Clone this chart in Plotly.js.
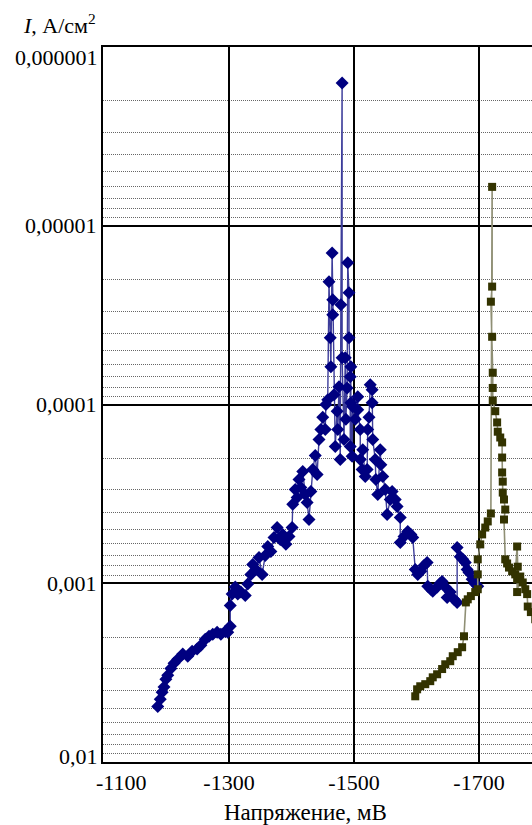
<!DOCTYPE html>
<html>
<head>
<meta charset="utf-8">
<script src="https://cdn.plot.ly/plotly-3.0.1.min.js"></script>
<style>
html, body { margin: 0; padding: 0; overflow: hidden; background: #fff; }
#chart { width: 600px; height: 825px; }
</style>
</head>
<body>
<div id="chart"></div>
<script>
// Series 1 (blue diamonds): voltage, mV
const blueV = [-1186,-1190,-1193,-1196,-1199,-1202,-1207,-1212,-1218,-1226,-1234,-1241,-1249,-1255,-1262,-1268,-1274,-1281,-1287,-1294,-1298,-1302,-1302,-1305,-1310,-1314,-1319,-1326,-1330,-1335,-1338,-1343,-1348,-1353,-1358,-1362,-1367,-1372,-1377,-1382,-1386,-1391,-1396,-1401,-1402,-1406,-1409,-1412,-1415,-1418,-1422,-1425,-1428,-1431,-1434,-1438,-1441,-1444,-1447,-1450,-1454,-1455,-1458,-1460,-1462,-1463,-1465,-1466,-1466,-1468,-1470,-1473,-1474,-1476,-1478,-1479,-1481,-1481,-1484,-1486,-1487,-1489,-1490,-1492,-1492,-1494,-1494,-1495,-1495,-1497,-1498,-1502,-1506,-1506,-1510,-1510,-1513,-1514,-1518,-1521,-1522,-1524,-1526,-1529,-1529,-1530,-1534,-1535,-1538,-1542,-1543,-1546,-1550,-1553,-1558,-1561,-1566,-1569,-1574,-1574,-1580,-1586,-1591,-1594,-1598,-1602,-1607,-1612,-1617,-1618,-1623,-1626,-1633,-1638,-1641,-1646,-1649,-1654,-1660,-1665,-1665,-1670,-1674,-1678,-1681,-1684,-1689,-1694,-1698];
// Series 1 current density, A/cm2
const blueI = [4.9e-3,4.45e-3,4.07e-3,3.81e-3,3.44e-3,3.27e-3,3.0e-3,2.8e-3,2.66e-3,2.49e-3,2.56e-3,2.40e-3,2.33e-3,2.22e-3,2.06e-3,1.98e-3,1.93e-3,1.88e-3,1.93e-3,1.86e-3,1.88e-3,1.74e-3,1.33e-3,1.15e-3,1.05e-3,1.15e-3,1.12e-3,1.17e-3,1.01e-3,8.92e-4,7.85e-4,8.37e-4,7.18e-4,8.92e-4,7.0e-4,6.23e-4,6.64e-4,5.55e-4,4.88e-4,5.69e-4,5.33e-4,6.06e-4,5.48e-4,4.88e-4,3.62e-4,2.99e-4,3.31e-4,2.63e-4,2.91e-4,2.37e-4,3.19e-4,3.53e-4,4.40e-4,3.07e-4,2.31e-4,1.93e-4,2.46e-4,1.57e-4,1.38e-4,1.18e-4,1.38e-4,1.0e-4,9.4e-5,2.06e-5,4.23e-5,6.15e-5,1.42e-5,2.59e-5,3.15e-5,8.82e-5,1.72e-4,1.09e-4,1.38e-4,7.96e-5,2.03e-4,2.77e-5,1.59e-6,5.48e-5,1.57e-4,5.48e-5,1.21e-4,8.08e-5,1.61e-5,2.37e-5,4.23e-5,7.0e-5,1.72e-4,6.15e-5,9.78e-5,1.95e-4,1.03e-4,1.21e-4,9.04e-5,1.07e-4,1.38e-4,2.03e-4,2.31e-4,1.79e-4,2.53e-4,2.31e-4,1.38e-4,1.18e-4,7.75e-5,8.28e-5,9.78e-5,1.57e-4,2.03e-4,2.63e-4,3.19e-4,1.79e-4,2.17e-4,2.53e-4,2.99e-4,4.12e-4,3.40e-4,3.07e-4,3.40e-4,3.72e-4,4.29e-4,5.92e-4,5.48e-4,5.13e-4,5.33e-4,5.55e-4,8.37e-4,8.92e-4,8.58e-4,7.96e-4,7.65e-4,1.04e-3,1.08e-3,1.11e-3,1.05e-3,1.0e-3,9.78e-4,1.05e-3,1.2e-3,1.12e-3,1.23e-3,1.28e-3,6.3e-4,7.1e-4,7.35e-4,7.65e-4,8.37e-4,8.7e-4,9.5e-4,1.01e-3,1.04e-3];
// Series 2 (olive squares)
const oliveV = [-1598,-1601,-1606,-1614,-1622,-1626,-1633,-1641,-1646,-1654,-1658,-1666,-1673,-1676,-1679,-1682,-1687,-1694,-1698,-1698,-1698,-1702,-1705,-1710,-1714,-1719,-1721,-1721,-1719,-1721,-1722,-1722,-1722,-1726,-1729,-1730,-1734,-1737,-1737,-1737,-1738,-1738,-1740,-1742,-1740,-1742,-1745,-1748,-1753,-1758,-1761,-1762,-1761,-1761,-1766,-1770,-1774,-1777,-1778,-1783,-1790,-1798];
const oliveI = [4.29e-3,3.92e-3,3.77e-3,3.67e-3,3.53e-3,3.36e-3,3.23e-3,3.02e-3,2.84e-3,2.73e-3,2.56e-3,2.43e-3,2.28e-3,1.98e-3,1.28e-3,1.23e-3,1.18e-3,1.12e-3,1.08e-3,8.92e-4,7.35e-4,6.06e-4,5.33e-4,4.88e-4,4.51e-4,4.07e-4,6.06e-6,2.19e-5,2.66e-5,4.18e-5,6.64e-5,8.08e-5,9.5e-5,1.09e-4,1.26e-4,1.42e-4,1.53e-4,1.63e-4,1.98e-4,2.40e-4,2.70e-4,3.11e-4,3.40e-4,3.87e-4,4.40e-4,7.35e-4,7.75e-4,8.17e-4,8.58e-4,8.92e-4,6.23e-4,8.08e-4,9.5e-4,1.12e-3,9.17e-4,9.9e-4,1.08e-3,1.15e-3,1.35e-3,1.45e-3,1.59e-3,1.81e-3];

const xTickVals = [-1100,-1300,-1500,-1700,-1900];
const xTickText = ['-1100','-1300','-1500','-1700','-1900'];
const yTickVals = [1e-6,1e-5,1e-4,1e-3,1e-2];
const yTickText = ['0,000001','0,00001','0,0001','0,001','0,01'];
const yTitle = '<i>I</i>, А/см<sup>2</sup>';
const xTitle = 'Напряжение, мВ';

const FONT = '"Liberation Serif", "DejaVu Serif", serif';
const FS = 22;

const minorVals = [];
for (let e = -6; e <= -3; e++) for (let m = 2; m <= 9; m++) minorVals.push(m * Math.pow(10, e));

const traces = [
  { x: blueV, y: blueI, type: 'scatter', mode: 'lines+markers',
    line: { color: '#3c3c9a', width: 1.4 },
    marker: { symbol: 'diamond', size: 10, color: '#000080' } },
  { x: oliveV, y: oliveI, type: 'scatter', mode: 'lines+markers',
    line: { color: '#8f8f74', width: 1.6 },
    marker: { symbol: 'square', size: 8, color: '#333300' } }
];

const xShown = xTickText.map((t, i) => i === 0 ? ' ' : t);
const yShown = yTickText.map((t, i) => (i === 0 || i === yTickText.length - 1) ? ' ' : t);

const layout = {
  width: 600, height: 825,
  margin: { l: 103, r: 20, t: 47, b: 63 },
  paper_bgcolor: '#fff', plot_bgcolor: '#fff',
  showlegend: false,
  font: { family: FONT, size: FS, color: '#000' },
  xaxis: {
    range: [-1098.4, -1861.6],
    tickvals: xTickVals, ticktext: xShown,
    showgrid: true, gridcolor: '#000', gridwidth: 2,
    showline: true, linecolor: '#000', linewidth: 2, mirror: true,
    ticks: '', zeroline: false,
    tickfont: { family: FONT, size: FS, color: '#000' }
  },
  yaxis: {
    type: 'log', range: [-2, -6],
    tickvals: yTickVals, ticktext: yShown,
    showgrid: true, gridcolor: '#000', gridwidth: 2,
    minor: { tickvals: minorVals, showgrid: true, gridcolor: '#666', griddash: '1px,1px', gridwidth: 1, ticks: '' },
    showline: true, linecolor: '#000', linewidth: 2, mirror: true,
    ticks: '', zeroline: false,
    tickfont: { family: FONT, size: FS, color: '#000' }
  },
  annotations: [
    { text: yTitle, xref: 'paper', x: 0, xanchor: 'right', xshift: -5,
      yref: 'paper', y: 1, yanchor: 'bottom', yshift: 7, showarrow: false,
      font: { family: FONT, size: FS, color: '#000' } },
    { text: yTickText[0], xref: 'paper', x: 0, xanchor: 'right', xshift: -3,
      yref: 'y', y: Math.log10(yTickVals[0]), yanchor: 'middle', yshift: -10, showarrow: false,
      font: { family: FONT, size: FS, color: '#000' } },
    { text: yTickText[4], xref: 'paper', x: 0, xanchor: 'right', xshift: -3,
      yref: 'y', y: Math.log10(yTickVals[4]), yanchor: 'middle', yshift: 6, showarrow: false,
      font: { family: FONT, size: FS, color: '#000' } },
    { text: xTickText[0], xref: 'x', x: xTickVals[0], xanchor: 'center', xshift: 17,
      yref: 'paper', y: 0, yanchor: 'top', yshift: -6, showarrow: false,
      font: { family: FONT, size: FS, color: '#000' } },
    { text: xTitle, xref: 'paper', x: 0.4235, xanchor: 'center',
      yref: 'paper', y: 0, yanchor: 'top', yshift: -36, showarrow: false,
      font: { family: FONT, size: 23, color: '#000' } }
  ]
};

Plotly.newPlot('chart', traces, layout, { displayModeBar: false, staticPlot: true });
</script>
</body>
</html>
